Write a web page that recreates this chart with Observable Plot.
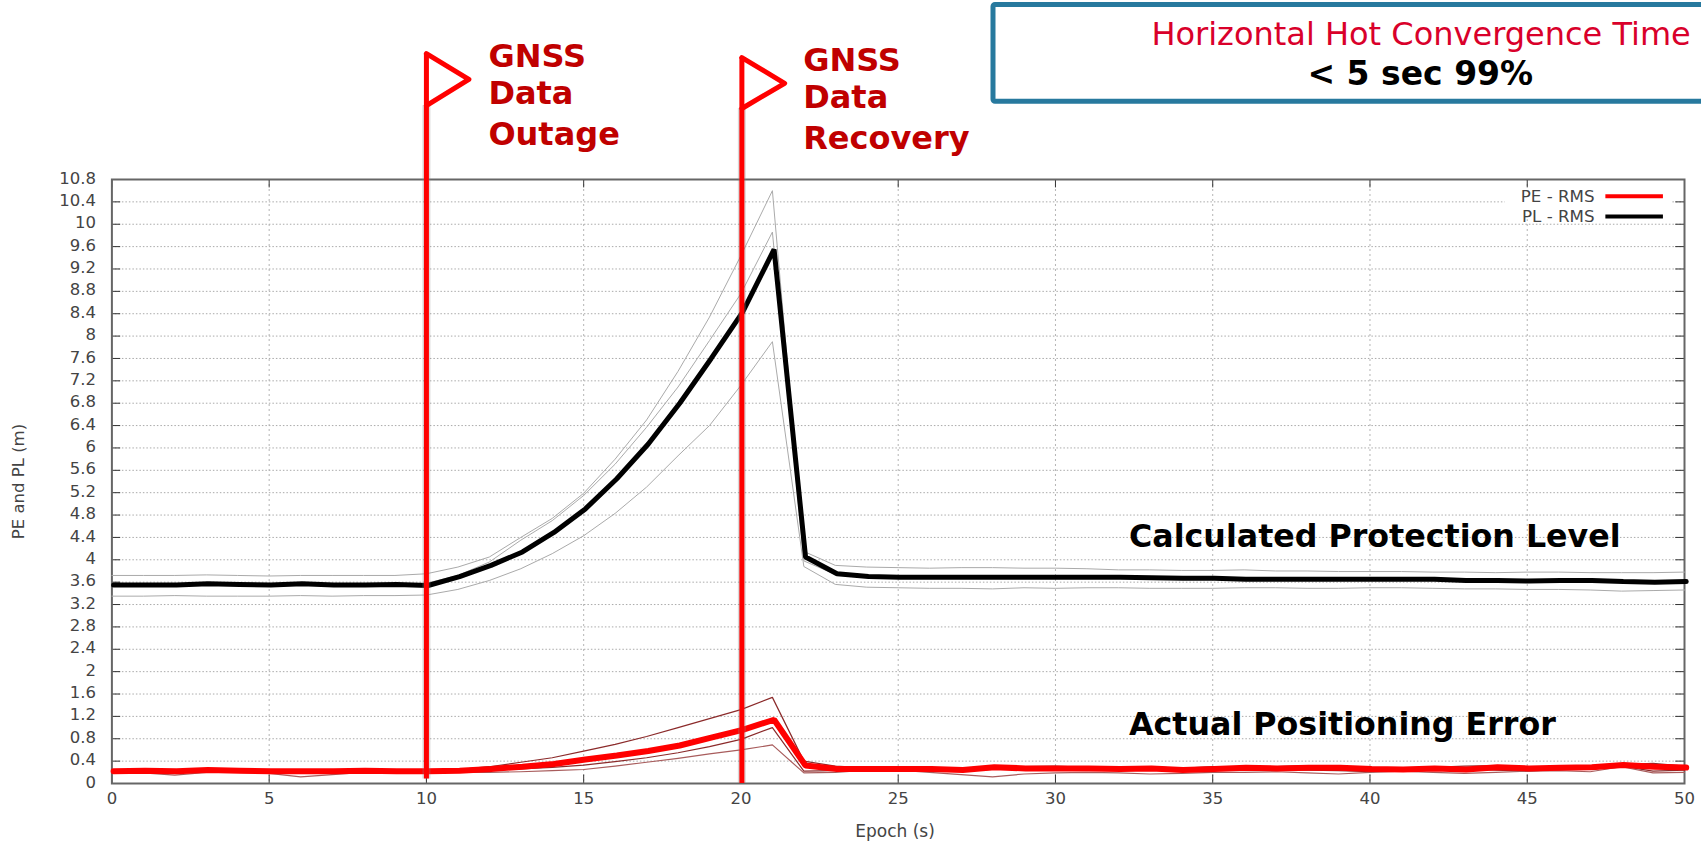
<!DOCTYPE html>
<html>
<head>
<meta charset="utf-8">
<style>
html,body{margin:0;padding:0;background:#fff;overflow:hidden}
svg{display:block}
</style>
<script src="https://cdn.jsdelivr.net/npm/d3@7"></script>
<script src="https://cdn.jsdelivr.net/npm/@observablehq/plot@0.6"></script>
</head>
<body>
<div id="chart"></div>
<script>
const xTicks = [0,5,10,15,20,25,30,35,40,45,50];
const yTicks = [0,0.4,0.8,1.2,1.6,2,2.4,2.8,3.2,3.6,4,4.4,4.8,5.2,5.6,6,6.4,6.8,7.2,7.6,8,8.4,8.8,9.2,9.6,10,10.4,10.8];

const plRms = [3.55,3.55,3.55,3.57,3.56,3.55,3.57,3.55,3.55,3.56,3.54,
  3.70,3.90,4.14,4.49,4.91,5.45,6.07,6.80,7.60,8.43,9.55,
  4.05,3.75,3.70,3.69,3.69,3.69,3.69,3.69,3.69,3.69,
  3.69,3.68,3.67,3.67,3.65,3.65,3.65,3.65,3.65,3.65,
  3.65,3.63,3.63,3.62,3.63,3.63,3.61,3.60,3.61];
const plUpper = [3.72,3.72,3.72,3.73,3.72,3.71,3.72,3.72,3.72,3.72,3.75,
  3.87,4.05,4.40,4.74,5.19,5.80,6.50,7.37,8.34,9.44,10.6,
  4.15,3.90,3.87,3.86,3.85,3.86,3.86,3.85,3.85,3.84,
  3.82,3.82,3.81,3.81,3.82,3.80,3.80,3.79,3.79,3.79,
  3.78,3.78,3.77,3.78,3.78,3.77,3.77,3.77,3.78];
const plMiddle = [3.56,3.55,3.56,3.55,3.55,3.56,3.55,3.55,3.56,3.55,3.58,
  3.72,3.96,4.35,4.70,5.15,5.71,6.37,7.09,7.92,8.76,9.86,
  3.98,3.74,3.69,3.69,3.68,3.69,3.69,3.69,3.68,3.68,
  3.68,3.67,3.66,3.66,3.66,3.65,3.65,3.65,3.64,3.64,
  3.64,3.63,3.63,3.62,3.63,3.62,3.61,3.60,3.61];
const plLower = [3.35,3.35,3.36,3.35,3.35,3.35,3.36,3.35,3.36,3.36,3.37,
  3.47,3.63,3.84,4.11,4.43,4.83,5.30,5.86,6.40,7.12,7.9,
  3.88,3.56,3.51,3.50,3.49,3.49,3.48,3.50,3.49,3.50,
  3.50,3.49,3.49,3.49,3.50,3.50,3.49,3.49,3.50,3.50,
  3.49,3.48,3.48,3.47,3.47,3.46,3.44,3.45,3.46];

const peRms = [0.22,0.23,0.22,0.24,0.23,0.22,0.22,0.22,0.23,0.22,0.22,
  0.23,0.26,0.30,0.35,0.43,0.50,0.58,0.68,0.82,0.96,1.14,
  0.32,0.26,0.26,0.26,0.26,0.24,0.29,0.27,0.27,0.27,
  0.26,0.27,0.24,0.26,0.28,0.27,0.28,0.28,0.26,0.25,
  0.27,0.25,0.29,0.27,0.28,0.29,0.33,0.30,0.285];
const peUpper = [0.24,0.24,0.24,0.25,0.24,0.24,0.24,0.24,0.24,0.24,0.23,
  0.25,0.30,0.38,0.46,0.58,0.70,0.84,1.00,1.16,1.32,1.54,
  0.40,0.31,0.28,0.27,0.28,0.27,0.31,0.30,0.31,0.29,
  0.28,0.30,0.27,0.30,0.30,0.30,0.32,0.30,0.28,0.28,
  0.29,0.31,0.32,0.28,0.30,0.30,0.34,0.36,0.31];
const peMiddle = [0.21,0.21,0.20,0.22,0.21,0.21,0.20,0.21,0.21,0.21,0.21,
  0.22,0.24,0.26,0.29,0.33,0.39,0.46,0.55,0.66,0.79,1.0,
  0.22,0.23,0.25,0.25,0.25,0.23,0.25,0.25,0.25,0.26,
  0.25,0.24,0.22,0.24,0.25,0.25,0.24,0.23,0.21,0.24,
  0.26,0.26,0.24,0.22,0.25,0.25,0.31,0.22,0.24];
const peLower = [0.20,0.19,0.15,0.20,0.20,0.18,0.12,0.16,0.20,0.20,0.20,
  0.20,0.20,0.21,0.23,0.25,0.31,0.38,0.45,0.53,0.60,0.69,
  0.19,0.20,0.24,0.24,0.20,0.16,0.12,0.17,0.19,0.20,
  0.19,0.17,0.18,0.20,0.20,0.21,0.19,0.17,0.20,0.22,
  0.20,0.18,0.20,0.22,0.23,0.21,0.30,0.19,0.20];

const eventTimes = [10, 20.03];
const FONT = "'DejaVu Sans'";
const thin = (arr, stroke, w) => Plot.line(arr, {x:(d,i)=>i, y:d=>d, stroke, strokeWidth:w});
const thick = (arr, stroke, w) => Plot.line(arr, {x:(d,i)=>i, y:d=>d, stroke, strokeWidth:w, dx:1.7, strokeLinejoin:"miter"});
const flag = (x, apexX, top, mid, bot) => [{x,y:top},{x:apexX,y:mid},{x,y:bot}];
const label = (text, x, y, opts) => Plot.text([text], {x:()=>x, y:()=>y, text:d=>d, fontFamily:FONT, lineAnchor:"middle", ...opts});

const chart = Plot.plot({
  width:1701, height:841,
  marginLeft:111.4, marginRight:17, marginTop:179, marginBottom:58,
  style:{fontFamily:FONT, fontSize:"16px", background:"#fff", overflow:"visible"},
  x:{domain:[0,50], label:null},
  y:{domain:[0,10.8], label:null},
  marks:[
    // grid
    Plot.ruleY(yTicks.slice(1,-1), {stroke:"#aaa", strokeWidth:1, strokeDasharray:"1.5,2"}),
    Plot.ruleX(xTicks.slice(1,-1), {stroke:"#b4b4b4", strokeWidth:1, strokeDasharray:"2,3"}),
    // legend backing hides the grid
    Plot.rect([0], {x1:()=>44.3, x2:()=>49.6, y1:()=>10.08, y2:()=>10.64, fill:"#fff"}),
    // inward ticks
    Plot.ruleX(xTicks, {y1:0, y2:0.15, stroke:"#333", strokeWidth:1}),
    Plot.ruleX(xTicks, {y1:10.8, y2:10.65, stroke:"#333", strokeWidth:1}),
    Plot.ruleY(yTicks, {x1:0, x2:0.28, stroke:"#333", strokeWidth:1}),
    Plot.ruleY(yTicks, {x1:50, x2:49.72, stroke:"#333", strokeWidth:1}),
    Plot.frame({stroke:"#666", strokeWidth:2}),
    Plot.axisX(xTicks, {tickSize:0, tickPadding:9, label:null, fill:"#444", fontSize:16.5}),
    Plot.axisY(yTicks, {tickSize:0, tickPadding:16, label:null, fill:"#444", fontSize:16.5, dy:-1.2, tickFormat:d=>String(d)}),
    label("PE and PL (m)", -2.95, 5.4, {rotate:-90, fill:"#444", fontSize:16.5}),
    label("Epoch (s)", 24.9, -0.853, {fill:"#444", fontSize:17}),
    // protection level
    thin(plUpper, "#aaa", 1), thin(plMiddle, "#aaa", 1), thin(plLower, "#aaa", 1),
    thick(plRms, "#000", 5),
    // positioning error
    thin(peUpper, "#8b2a2a", 1.2), thin(peMiddle, "#8b2a2a", 1.2), thin(peLower, "#a85c5c", 1.2),
    thick(peRms, "#f00", 6),
    // legend
    label("PE - RMS", 47.14, 10.5, {textAnchor:"end", fill:"#444", fontSize:16.7}),
    label("PL - RMS", 47.14, 10.14, {textAnchor:"end", fill:"#444", fontSize:16.7}),
    Plot.ruleY([10.5], {x1:47.5, x2:49.33, stroke:"#f00", strokeWidth:4}),
    Plot.ruleY([10.14], {x1:47.5, x2:49.33, stroke:"#000", strokeWidth:4}),
    // event flags
    Plot.ruleX([eventTimes[0]], {y1:0.08, y2:12.12, stroke:"#888", strokeOpacity:0.3, strokeWidth:8}),
    Plot.ruleX([eventTimes[1]], {y1:0, y2:12.07, stroke:"#888", strokeOpacity:0.3, strokeWidth:8}),
    Plot.ruleX([eventTimes[0]], {y1:0.08, y2:13.05, stroke:"#f00", strokeWidth:5}),
    Plot.ruleX([eventTimes[1]], {y1:0, y2:12.98, stroke:"#f00", strokeWidth:5}),
    Plot.line(flag(eventTimes[0], 11.35, 13.05, 12.59, 12.12), {x:"x", y:"y", stroke:"#f00", strokeWidth:5}),
    Plot.line(flag(eventTimes[1], 21.39, 12.98, 12.52, 12.07), {x:"x", y:"y", stroke:"#f00", strokeWidth:5}),
    // event labels
    label("GNSS", 11.97, 13.0, {textAnchor:"start", fill:"#c00000", fontWeight:"bold", fontSize:32}),
    label("Data", 11.97, 12.34, {textAnchor:"start", fill:"#c00000", fontWeight:"bold", fontSize:32}),
    label("Outage", 11.97, 11.6, {textAnchor:"start", fill:"#c00000", fontWeight:"bold", fontSize:32}),
    label("GNSS", 21.98, 12.93, {textAnchor:"start", fill:"#c00000", fontWeight:"bold", fontSize:32}),
    label("Data", 21.98, 12.27, {textAnchor:"start", fill:"#c00000", fontWeight:"bold", fontSize:32}),
    label("Recovery", 21.98, 11.53, {textAnchor:"start", fill:"#c00000", fontWeight:"bold", fontSize:32}),
    // callout box
    Plot.rect([0], {x1:()=>28.03, x2:()=>51, y1:()=>12.19, y2:()=>13.92, fill:"#fff", stroke:"#27799e", strokeWidth:5, rx:2}),
    label("Horizontal Hot Convergence Time", 50.2, 13.38, {textAnchor:"end", fill:"#d9002a", fontSize:32}),
    label("< 5 sec 99%", 41.6, 12.68, {fill:"#000", fontWeight:"bold", fontSize:33}),
    // series annotations
    label("Calculated Protection Level", 32.34, 4.41, {textAnchor:"start", fill:"#000", fontWeight:"bold", fontSize:31.7}),
    label("Actual Positioning Error", 32.34, 1.04, {textAnchor:"start", fill:"#000", fontWeight:"bold", fontSize:31.7})
  ]
});
document.getElementById("chart").append(chart);
</script>
</body>
</html>
